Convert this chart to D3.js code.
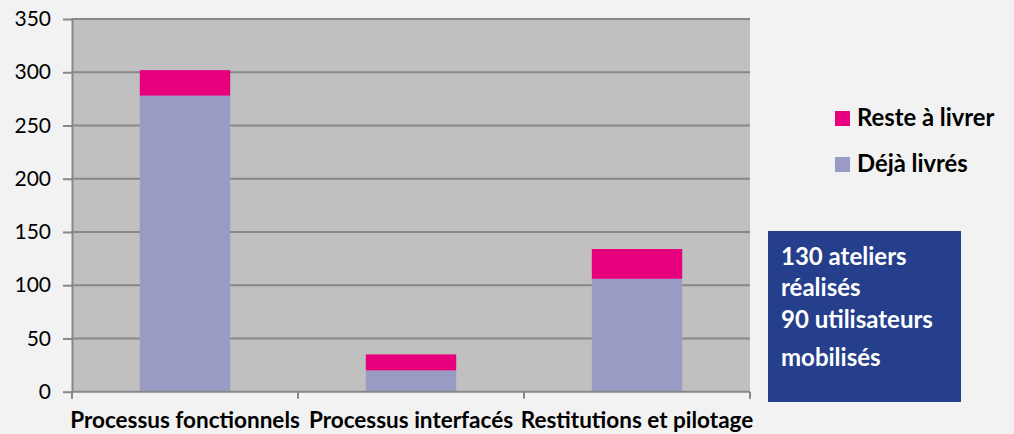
<!DOCTYPE html>
<html>
<head>
<meta charset="utf-8">
<script src="https://cdn.jsdelivr.net/npm/d3@7"></script>
<style>
	body { margin: 0; background: #f2f2f2; }
	svg { display: block; }
	.axis text { font-family: Lato, "Open Sans", sans-serif; fill: #000; }
	.axis path, .axis line { stroke: #878787; stroke-width: 2px; }
</style>
</head>
<body>
<div id="chart-area"></div>
<script>
// DATA
var categories = ["Processus fonctionnels", "Processus interfacés", "Restitutions et pilotage"];
var dejaLivres = [278, 20, 106];
var resteALivrer = [24, 15, 28];
var seriesNames = ["Reste à livrer", "Déjà livrés"];
var yTicks = [0, 50, 100, 150, 200, 250, 300, 350];
var noteLines = ["130 ateliers", "réalisés", "90 utilisateurs", "mobilisés"];

var colors = { "Déjà livrés": "#9a9bc4", "Reste à livrer": "#e6007e" };

var margin = { left: 72, top: 19 };
var width = 678, height = 372.7;

var svg = d3.select("#chart-area")
	.append("svg")
	.attr("width", 1014)
	.attr("height", 434);

var g = svg.append("g")
	.attr("transform", "translate(" + margin.left + "," + margin.top + ")");

// SCALES
var x = d3.scaleBand()
	.domain(categories)
	.range([0, width])
	.paddingInner(0.6)
	.paddingOuter(0.3);

var xOuter = d3.scaleBand()
	.domain(categories)
	.range([0, width]);

var y = d3.scaleLinear()
	.domain([0, 350])
	.range([height, 0]);

// PLOT BACKGROUND
g.append("rect")
	.attr("width", width)
	.attr("height", height)
	.attr("fill", "#c0c0c0");

// GRIDLINES
g.selectAll(".grid")
	.data(yTicks.slice(1))
	.enter()
	.append("line")
	.attr("class", "grid")
	.attr("x1", 0)
	.attr("x2", width)
	.attr("y1", function (d) { return y(d); })
	.attr("y2", function (d) { return y(d); })
	.attr("stroke", "#878787")
	.attr("stroke-width", 2);

// STACK
var rows = categories.map(function (c, i) {
	return { cat: c, "Déjà livrés": dejaLivres[i], "Reste à livrer": resteALivrer[i] };
});
var stack = d3.stack().keys(["Déjà livrés", "Reste à livrer"])(rows);

g.selectAll(".layer")
	.data(stack)
	.enter()
	.append("g")
	.attr("class", "layer")
	.attr("fill", function (d) { return colors[d.key]; })
	.selectAll("rect")
	.data(function (d) { return d; })
	.enter()
	.append("rect")
	.attr("x", function (d) { return x(d.data.cat); })
	.attr("width", x.bandwidth())
	.attr("y", function (d) { return y(d[1]); })
	.attr("height", function (d) { return y(d[0]) - y(d[1]); });

// Y AXIS
var yAxisCall = d3.axisLeft(y)
	.tickValues(yTicks)
	.tickSize(9)
	.tickPadding(12)
	.tickSizeOuter(0);
var yAxis = g.append("g")
	.attr("class", "y axis")
	.call(yAxisCall);
yAxis.selectAll("text").attr("font-size", "21px");

// X AXIS
var xAxisG = g.append("g")
	.attr("class", "x axis")
	.attr("transform", "translate(0," + height + ")");
xAxisG.append("line")
	.attr("x1", 0).attr("x2", width);
xAxisG.selectAll(".xt")
	.data([0].concat(categories.map(function (c) { return xOuter(c) + xOuter.bandwidth(); })))
	.enter()
	.append("line")
	.attr("class", "xt")
	.attr("x1", function (d) { return d; })
	.attr("x2", function (d) { return d; })
	.attr("y1", 0)
	.attr("y2", 7);
xAxisG.selectAll(".xl")
	.data(categories)
	.enter()
	.append("text")
	.attr("class", "xl")
	.attr("x", function (d) { return xOuter(d) + xOuter.bandwidth() / 2; })
	.attr("y", 36)
	.attr("text-anchor", "middle")
	.attr("font-size", "22.5px")
	.attr("font-weight", "bold")
	.text(function (d) { return d; });

// LEGEND
var legend = svg.append("g")
	.attr("transform", "translate(835,111)");
legend.selectAll("g")
	.data(seriesNames)
	.enter()
	.append("g")
	.attr("transform", function (d, i) { return "translate(0," + (i * 46) + ")"; })
	.each(function (d) {
		var s = d3.select(this);
		s.append("rect")
			.attr("width", 15)
			.attr("height", 15)
			.attr("fill", colors[d]);
		s.append("text")
			.attr("x", 22)
			.attr("y", 15)
			.attr("font-family", "Lato, 'Open Sans', sans-serif")
			.attr("font-weight", "bold")
			.attr("font-size", "23.8px")
			.text(d);
	});

// NOTE BOX
svg.append("rect")
	.attr("x", 768)
	.attr("y", 231)
	.attr("width", 193)
	.attr("height", 171)
	.attr("fill", "#253f8c");
svg.selectAll(".note")
	.data(noteLines)
	.enter()
	.append("text")
	.attr("class", "note")
	.attr("x", 781)
	.attr("y", function (d, i) { return [265, 296, 328, 366][i]; })
	.attr("fill", "#fff")
	.attr("font-family", "Lato, 'Open Sans', sans-serif")
	.attr("font-weight", "bold")
	.attr("font-size", "24px")
	.text(function (d) { return d; });
</script>
</body>
</html>
